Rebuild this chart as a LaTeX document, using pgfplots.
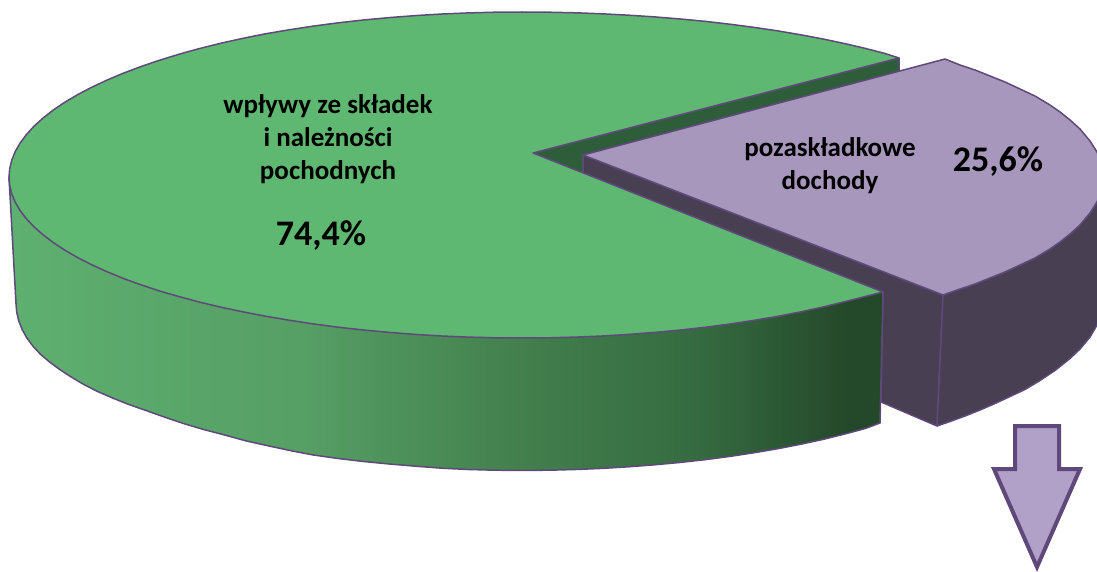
\documentclass[border=0pt]{standalone}
\usepackage{fontspec}
\setmainfont{Carlito}
\usepackage{pgfplots}
\pgfplotsset{compat=1.18}
\definecolor{gtop}{HTML}{5FB872}
\definecolor{gdark}{HTML}{2D5E39}
\definecolor{ptop}{HTML}{A897BC}
\definecolor{pwall}{HTML}{483F52}
\definecolor{edge}{HTML}{5F497A}
\definecolor{arrowfill}{HTML}{B1A0C7}
\definecolor{ws0}{HTML}{5EB070}
\definecolor{ws1}{HTML}{569F65}
\definecolor{ws2}{HTML}{44824F}
\definecolor{ws3}{HTML}{356A40}
\definecolor{ws4}{HTML}{24482A}
\pgfdeclarehorizontalshading{greenwall}{100bp}{color(0bp)=(ws0);color(25bp)=(ws0);color(41.7bp)=(ws1);color(53.2bp)=(ws2);color(64.7bp)=(ws3);color(73bp)=(ws4);color(100bp)=(ws4)}
\begin{document}
\begin{tikzpicture}
\path[use as bounding box] (0,0) rectangle (1097pt,572pt);
\begin{axis}[
  at={(0,0)}, anchor=south west,
  scale only axis, width=1097pt, height=572pt,
  xmin=0, xmax=1097, ymin=0, ymax=572, y dir=reverse,
  hide axis, no markers,
  every axis plot/.append style={draw=edge, line width=1.5pt, line join=round},
]
% dark inner wedge of the green slice
\addplot[fill=gdark] coordinates {(533,153)(899,58)(899,72)(583,155)(583,173)} --cycle;
% purple inner wall
\addplot[fill=pwall] coordinates {(583,155)(943,295)(937,426)(881,402)(883,293)(583,173)} --cycle;
% purple outer wall
\addplot[fill=pwall] coordinates {(943,295)(960,289)(975,284)(990,278)(1005,272)(1020,265)(1035,258)(1050,249)(1060,242)(1070,234)(1080,225)(1090,213)(1097,202)(1100,194)(1103,177)(1110,177)(1110,290)(1105,305)(1097,325)(1090,337)(1080,349)(1070,358.5)(1055,370.5)(1040,380.5)(1025,389.5)(1010,396.5)(995,403.5)(980,410)(965,416)(950,421.5)(937,426)} --cycle;
% purple top
\addplot[fill=ptop] coordinates {(583,155)(945,59)(960,65)(975,70)(990,76)(1005,82)(1020,89)(1035,96)(1050,105)(1060,112)(1070,120)(1080,129)(1090,141)(1097,152)(1100,160)(1103,177)(1100,194)(1097,202)(1090,213)(1080,225)(1070,234)(1060,242)(1050,249)(1035,258)(1020,265)(1005,272)(990,278)(975,284)(960,289)(943,295)} --cycle;
% green wall
\addplot[shade, shading=greenwall] coordinates {(9,177)(16,303.5)(16.7,312.2)(18.8,321)(22.2,329.6)(27,338.2)(33.2,346.5)(40.7,354.5)(49.6,362)(59.7,369.5)(71.2,377)(83.8,384.5)(97.6,391.5)(112.6,398)(128.8,404.5)(146,410.5)(164.2,417)(183.4,423.5)(203.6,429.5)(224.6,435)(246.4,441)(269,446)(292.3,451)(313.3,455)(338.2,458.5)(363.5,461.5)(389.2,464)(415.3,466.2)(441.8,468.2)(468.4,469.5)(495.1,470.2)(522,470.4)(548.9,470.2)(575.6,469.5)(602.2,468.4)(628.7,466.8)(654.8,464.8)(680.5,462.4)(705.8,459.6)(730.7,456.3)(754.9,452.6)(778.5,448.6)(801.4,444.1)(823.5,439.3)(844.8,434)(865.3,428.5)(880,423)(883,292)} --cycle;
% green top
\addplot[fill=gtop] coordinates {(533,153)(899,58)(884.7,53.4)(865.3,48.4)(844.8,43.6)(823.5,39.1)(801.4,34.9)(778.5,31)(754.9,27.5)(730.7,24.3)(705.8,21.4)(680.5,19)(654.8,16.9)(628.7,15.2)(602.2,13.8)(575.6,12.8)(548.9,12.2)(522,12)(495.1,12.2)(468.4,12.9)(441.8,14)(415.3,15.6)(389.2,17.6)(363.5,20)(338.2,22.8)(313.3,26.1)(289.1,29.8)(265.5,33.8)(242.6,38.4)(220.5,43.3)(199.2,48.6)(178.7,54.3)(159.3,60.3)(140.8,66.6)(123.3,73.2)(107,80.1)(91.8,87.2)(77.7,94.6)(64.9,102.2)(53.3,110)(43.1,118)(34.1,126.1)(26.5,134.5)(20.2,142.9)(15.3,151.4)(11.8,160)(9.7,168.6)(9,177.2)(9.7,185.6)(11.8,194)(15.3,202.4)(20.2,210.7)(26.5,218.9)(34.1,226.9)(43.1,234.8)(53.3,242.6)(64.9,250.2)(77.7,257.6)(91.8,264.8)(107,271.7)(123.3,278.4)(140.8,284.8)(159.3,290.9)(178.7,296.5)(199.2,302)(220.5,307.1)(242.6,311.8)(265.5,316.2)(289.1,320.2)(313.3,323.9)(338.2,327.2)(363.5,330)(389.2,332.4)(415.3,334.4)(441.8,336)(468.4,337.1)(495.1,337.8)(522,338)(548.9,337.8)(575.6,337.1)(602.2,336)(628.7,334.4)(654.8,332.4)(680.5,330)(705.8,327.2)(730.7,323.9)(754.9,320.2)(778.5,316.2)(801.4,311.7)(823.5,306.9)(844.8,301.7)(865.3,296.5)(883,292)} --cycle;
% arrow
\addplot[fill=arrowfill, line width=4pt, line join=miter] coordinates {(1015,426)(1059,426)(1059,469)(1080,469)(1037,567)(994,469)(1015,469)} --cycle;
\node[font=\fontsize{27}{33}\selectfont\bfseries, align=center, anchor=center] at (axis cs:328,139) {wpływy ze składek\\i należności\\pochodnych};
\node[font=\fontsize{36}{40}\selectfont\bfseries, anchor=center] at (axis cs:321,236) {74,4\%};
\node[font=\fontsize{27}{33}\selectfont\bfseries, align=center, anchor=center] at (axis cs:830,166) {pozaskładkowe\\dochody};
\node[font=\fontsize{36}{40}\selectfont\bfseries, anchor=center] at (axis cs:998,162) {25,6\%};
\end{axis}
\end{tikzpicture}
\end{document}
